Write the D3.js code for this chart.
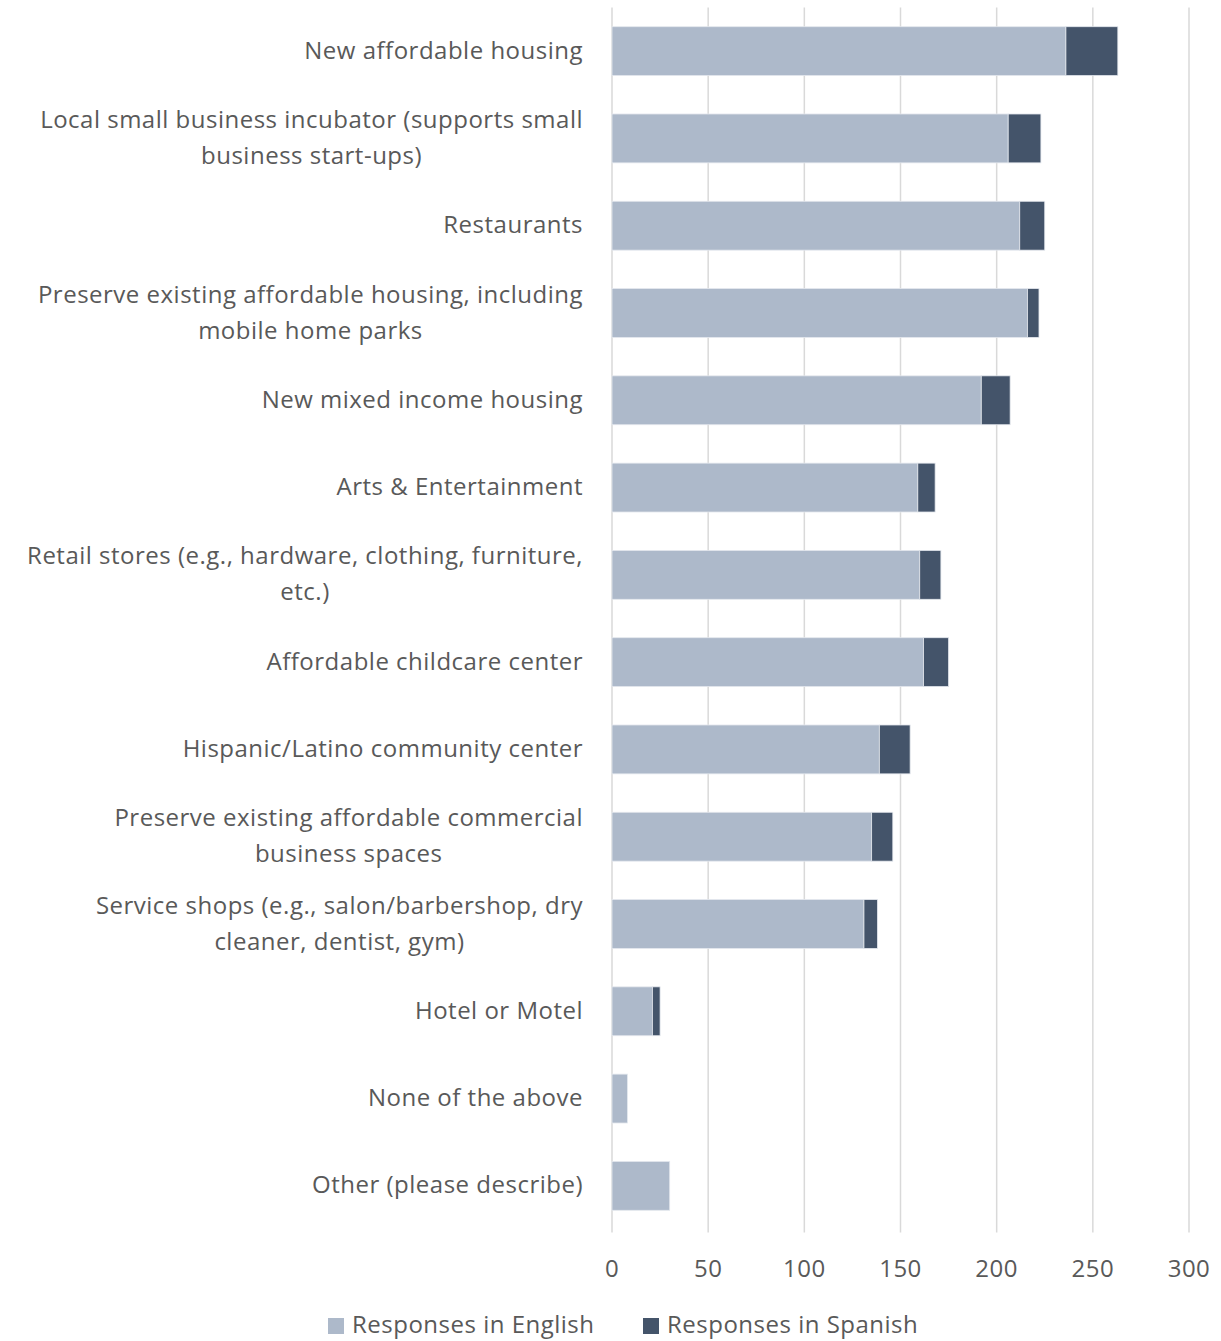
<!DOCTYPE html>
<html>
<head>
<meta charset="utf-8">
<script src="https://cdn.jsdelivr.net/npm/d3@7"></script>
<style>
  html, body { margin: 0; padding: 0; background: #fff; }
  svg { display: block; }
  text { font-family: "Open Sans", Lato, sans-serif; fill: #595959; letter-spacing: 0.5px; }
</style>
</head>
<body>
<svg id="chart" width="1221" height="1341"></svg>
<script>
// Categories, top to bottom; multi-line labels are split on "\n"
const categories = [
  "New affordable housing",
  "Local small business incubator (supports small\nbusiness start-ups)",
  "Restaurants",
  "Preserve existing affordable housing, including\nmobile home parks",
  "New mixed income housing",
  "Arts & Entertainment",
  "Retail stores (e.g., hardware, clothing, furniture,\netc.)",
  "Affordable childcare center",
  "Hispanic/Latino community center",
  "Preserve existing affordable commercial\nbusiness spaces",
  "Service shops (e.g., salon/barbershop, dry\ncleaner, dentist, gym)",
  "Hotel or Motel",
  "None of the above",
  "Other (please describe)"
];
const englishResponses = [236, 206, 212, 216, 192, 159, 160, 162, 139, 135, 131, 21, 8, 30];
const spanishResponses = [27, 17, 13, 6, 15, 9, 11, 13, 16, 11, 7, 4, 0, 0];
const seriesNames = ["Responses in English", "Responses in Spanish"];
const seriesColors = ["#ADB9CA", "#44546A"];
const xTicks = [0, 50, 100, 150, 200, 250, 300];

const svg = d3.select("#chart");
const plot = { left: 612, right: 1189, top: 7.5, bottom: 1229.5 };
const fontSize = 24;

const x = d3.scaleLinear().domain([0, 300]).range([plot.left, plot.right]);
const y = d3.scaleBand().domain(categories).range([plot.top, plot.bottom]).paddingInner(0.44).paddingOuter(0.22);

// Vertical gridlines
svg.append("g").selectAll("line").data(xTicks).join("line")
  .attr("x1", d => x(d)).attr("x2", d => x(d))
  .attr("y1", plot.top).attr("y2", plot.bottom + 3)
  .attr("stroke", "#D9D9D9").attr("stroke-width", 1.5);

// Stacked bars
const rows = categories.map((c, i) => ({ cat: c, en: englishResponses[i], es: spanishResponses[i] }));
const stack = d3.stack().keys(["en", "es"])(rows);

svg.append("g").selectAll("g").data(stack).join("g")
  .attr("fill", (d, i) => seriesColors[i])
  .selectAll("rect").data(d => d.filter(s => s[1] > s[0])).join("rect")
  .attr("x", d => x(d[0]))
  .attr("y", d => y(d.data.cat))
  .attr("width", d => x(d[1]) - x(d[0]))
  .attr("height", y.bandwidth())
  .attr("stroke", "#E4E8EE").attr("stroke-width", 0.8);

// X axis tick labels
svg.append("g").selectAll("text").data(xTicks).join("text")
  .attr("x", d => x(d)).attr("y", 1277)
  .attr("text-anchor", "middle")
  .attr("font-size", fontSize)
  .text(d => d);

// Category labels: block right-aligned, each line centred within the block
const labelRight = 583;
const lineHeight = 36;
const labels = svg.append("g");
categories.forEach(cat => {
  const lines = cat.split("\n");
  const g = labels.append("g");
  const texts = lines.map(l => g.append("text").attr("font-size", fontSize).text(l));
  const maxW = d3.max(texts, t => t.node().getComputedTextLength());
  const cy = y(cat) + y.bandwidth() / 2;
  const firstBase = cy - (lines.length - 1) * lineHeight / 2 + 7.5;
  texts.forEach((t, k) => t
    .attr("x", labelRight - maxW / 2)
    .attr("y", firstBase + k * lineHeight)
    .attr("text-anchor", "middle"));
});

// Legend
const legendItems = [{ x: 328 }, { x: 643 }];
const legend = svg.append("g");
legendItems.forEach((it, i) => {
  legend.append("rect").attr("x", it.x).attr("y", 1318).attr("width", 16).attr("height", 16)
    .attr("fill", seriesColors[i]);
  legend.append("text").attr("x", it.x + 24).attr("y", 1333).attr("font-size", fontSize)
    .text(seriesNames[i]);
});
</script>
</body>
</html>
